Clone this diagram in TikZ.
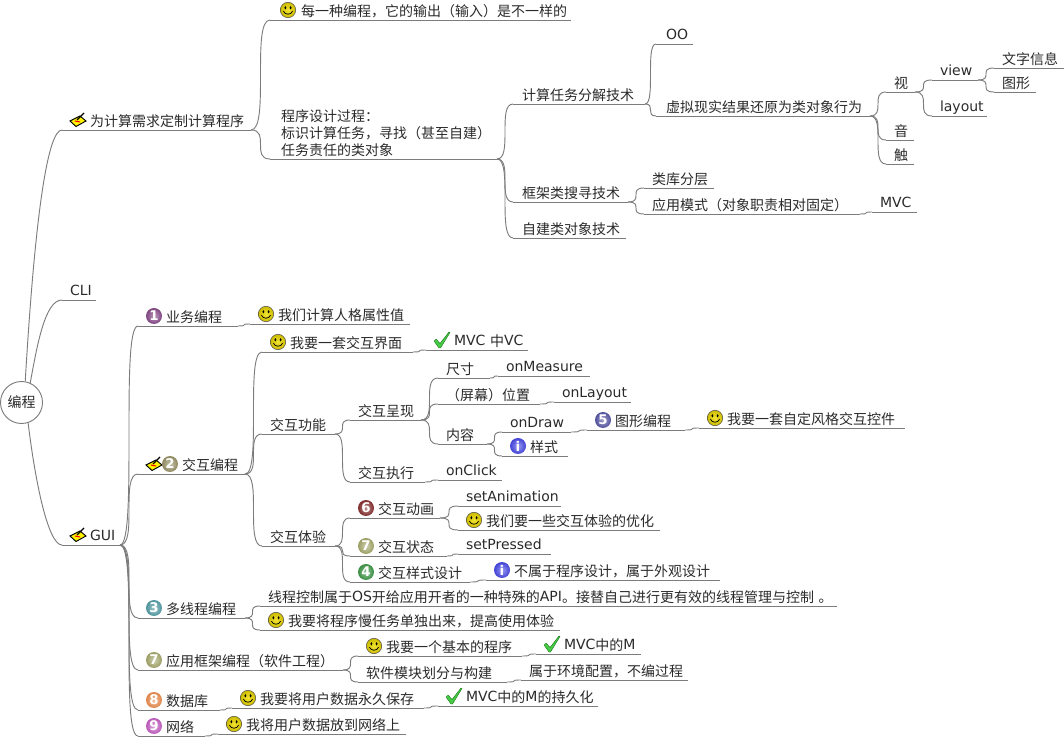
\documentclass[tikz,border=0pt]{standalone}
\usepackage{fontspec}
\setmainfont{Noto Sans CJK SC}
\newfontfamily\lat{DejaVu Sans}
\newcommand\ltn[1]{\raisebox{0.6pt}{\lat #1}}
\definecolor{linec}{HTML}{7C7C7C}
\definecolor{txtc}{HTML}{2A2A2A}
\definecolor{bA}{HTML}{8A4A8A}
\definecolor{bB}{HTML}{9A9468}
\definecolor{bC}{HTML}{55A0A8}
\definecolor{bD}{HTML}{3F9A48}
\definecolor{bE}{HTML}{5858A8}
\definecolor{bF}{HTML}{8A3030}
\definecolor{bG}{HTML}{A8AC6C}
\definecolor{bH}{HTML}{F09050}
\definecolor{bI}{HTML}{C860C8}
\definecolor{bInfo}{HTML}{4848E8}
\definecolor{smy}{HTML}{F0DC00}
\definecolor{chk}{HTML}{48CC48}
\tikzset{
  lab/.style={anchor=south west,inner sep=0pt,outer sep=0pt,align=left,text depth=2.8pt,text height=9pt,font=\fontsize{10.5}{12.75}\selectfont,text=txtc},
  ul/.style={draw=linec,line width=0.7pt},
  conn/.style={draw=linec,line width=0.7pt},
  pics/badge/.style 2 args={code={
    \shade[inner color=#1!55!white,outer color=#1!92!black] (0,0) circle (8);
    \node[inner sep=0pt,text=white,font=\lat\bfseries\fontsize{10}{10}\selectfont] (-n) at (0,0) {#2};
  }},
  pics/smiley/.style={code={
    \shade[inner color=smy!80!white,outer color=smy!85!black,draw=black!70,line width=0.4pt] (0,0) circle (7.7);
    \fill[black] (-2.6,-2.2) ellipse (1 and 1.7);
    \fill[black] (2.6,-2.2) ellipse (1 and 1.7);
    \draw[black,line width=0.55pt] (-4.6,1.2) .. controls (-3,5.2) and (3,5.2) .. (4.6,1.2);
  }},
  pics/chkmark/.style={code={
    \fill[chk,draw=green!40!black,line width=0.25pt] (-8,1) -- (-6,-1) -- (-2,3.5) -- (7,-8) -- (8,-7.5) -- (-1.5,8) -- (-3,8) -- cycle;
  }},
  pics/penbook/.style={code={
    \fill[yellow,draw=black,line width=0.7pt] (-8,0) -- (2,-5) -- (8,0) -- (-2,5.5) -- cycle;
    \draw[red,line width=0.8pt] (-3,0) -- (2,1);
    \draw[black,line width=1pt] (-1,-1) -- (6,-8);
  }}
}
% name x1 x2 y textx text
\newcommand\mnode[7][]{%
  \pgfmathsetmacro\ndwid{(#4-#3)*0.75}%
  \pgfmathsetmacro\ndoff{(#6-#3)*0.75}%
  \node[lab,text width=\ndwid pt,#1] (#2) at (#3,#5) {\hspace*{\ndoff pt}\mbox{#7}};
  \draw[ul] (#2.south west) -- (#2.south east);
}
\newcommand\cn[2]{\draw[conn] (#1.south east) .. controls (#2.south west |- #1.south east) and (#1.south east |- #2.south west) .. (#2.south west);}
\begin{document}
\begin{tikzpicture}[x=0.75pt,y=-0.75pt]
\useasboundingbox (0,0) rectangle (1064,737);
\node[circle,draw=linec,line width=0.7pt,minimum size=31.5pt,inner sep=0pt,font=\fontsize{10.5}{12.75}\selectfont,text=txtc] (root) at (21.5,402.5) {编程};

\mnode{a}{62}{251}{130}{90}{为计算需求定制计算程序}
\mnode{cli}{62}{96}{300}{70}{\ltn{CLI}}
\mnode{gui}{62}{120}{545}{90}{\ltn{GUI}}

\mnode{aa}{270}{571}{20}{301}{每一种编程，它的输出（输入）是不一样的}
\mnode[text depth=28.3pt,text height=9pt]{ab}{270}{497}{159}{281}{\vtop{\baselineskip=12.75pt\hbox{程序设计过程：}\hbox{标识计算任务，寻找（甚至自建）}\hbox{任务责任的类对象}}}
\mnode{ba}{513}{645}{104}{522}{计算任务分解技术}
\mnode{bb}{513}{628}{202}{522}{框架类搜寻技术}
\mnode{bc}{513}{626}{238}{522}{自建类对象技术}
\mnode{oo}{656}{693}{44}{666}{\ltn{OO}}
\mnode{vr}{656}{870}{116}{666}{虚拟现实结果还原为类对象行为}
\mnode{shi}{886}{915}{92}{894}{视}
\mnode{yin}{886}{914}{140}{894}{音}
\mnode{chu}{886}{914}{164}{894}{触}
\mnode{view}{932}{978}{80}{940}{\ltn{view}}
\mnode{layout}{932}{987}{116}{940}{\ltn{layout}}
\mnode{wz}{994}{1064}{68}{1002}{文字信息}
\mnode{tx}{994}{1036}{92}{1002}{图形}
\mnode{lk}{644}{714}{188}{652}{类库分层}
\mnode{yy}{644}{860}{214}{652}{应用模式（对象职责相对固定）}
\mnode{mvc}{872}{917}{212}{880}{\ltn{MVC}}

\mnode{b1}{138}{238}{326}{166}{业务编程}
\mnode{b1a}{250}{410}{324}{278}{我们计算人格属性值}
\mnode{b2}{138}{245}{474}{182}{交互编程}
\mnode{c1}{262}{413}{352}{290}{我要一套交互界面}
\mnode{c1a}{426}{528}{350}{454}{\ltn{MVC} 中\ltn{VC}}
\mnode{c2}{262}{335}{434}{270}{交互功能}
\mnode{c3}{262}{335}{546}{270}{交互体验}
\mnode{d1}{350}{421}{420}{358}{交互呈现}
\mnode{d2}{350}{425}{482}{358}{交互执行}
\mnode{d2a}{438}{502}{480}{446}{\ltn{onClick}}
\mnode{e1}{438}{490}{378}{446}{尺寸}
\mnode{e1a}{498}{590}{376}{506}{\ltn{onMeasure}}
\mnode{e2}{438}{540}{404}{446}{（屏幕）位置}
\mnode{e2a}{554}{631}{402}{562}{\ltn{onLayout}}
\mnode{e3}{438}{487}{444}{446}{内容}
\mnode{f1}{502}{571}{432}{510}{\ltn{onDraw}}
\mnode{f2}{502}{568}{456}{530}{样式}
\mnode{g1}{587}{685}{430}{615}{图形编程}
\mnode{g2}{699}{905}{428}{727}{我要一套自定风格交互控件}
\mnode{h1}{350}{440}{518}{378}{交互动画}
\mnode{h2}{350}{447}{556}{378}{交互状态}
\mnode{h3}{350}{470}{582}{378}{交互样式设计}
\mnode{h1a}{458}{561}{506}{466}{\ltn{setAnimation}}
\mnode{h1b}{458}{660}{530}{486}{我们要一些交互体验的优化}
\mnode{h2a}{458}{551}{554}{466}{\ltn{setPressed}}
\mnode{h3a}{486}{720}{580}{514}{不属于程序设计，属于外观设计}
\mnode{b3}{138}{245}{618}{166}{多线程编程}
\mnode{m1}{260}{837}{606}{268}{线程控制属于\ltn{OS}开给应用开者的一种特殊的\ltn{API}。接替自己进行更有效的线程管理与控制 。}
\mnode{m2}{260}{560}{630}{288}{我要将程序慢任务单独出来，提高使用体验}
\mnode{b7}{138}{343}{670}{166}{应用框架编程（软件工程）}
\mnode{n1}{358}{522}{656}{386}{我要一个基本的程序}
\mnode{n1a}{536}{641}{654}{564}{\ltn{MVC}中的\ltn{M}}
\mnode{n2}{358}{507}{682}{366}{软件模块划分与构建}
\mnode{n2a}{521}{688}{680}{529}{属于环境配置，不编过程}
\mnode{b8}{138}{220}{710}{166}{数据库}
\mnode{p1}{232}{424}{708}{260}{我要将用户数据永久保存}
\mnode{p1a}{438}{598}{706}{466}{\ltn{MVC}中的\ltn{M}的持久化}
\mnode{b9}{138}{205}{736}{166}{网络}
\mnode{q1}{218}{406}{734}{246}{我将用户数据放到网络上}

% root connectors
\draw[conn] (root.80) .. controls +(10,-170) and +(-14,0) .. (a.south west);
\draw[conn] (root.66) .. controls +(7,-38) and +(-17,0) .. (cli.south west);
\draw[conn] (root.-72) .. controls +(7,58) and +(-14,0) .. (gui.south west);

\cn{a}{aa}\cn{a}{ab}
\cn{ab}{ba}\cn{ab}{bb}\cn{ab}{bc}
\cn{ba}{oo}\cn{ba}{vr}
\cn{vr}{shi}\cn{vr}{yin}\cn{vr}{chu}
\cn{shi}{view}\cn{shi}{layout}
\cn{view}{wz}\cn{view}{tx}
\cn{bb}{lk}\cn{bb}{yy}\cn{yy}{mvc}
\cn{gui}{b1}\cn{gui}{b2}\cn{gui}{b3}\cn{gui}{b7}\cn{gui}{b8}\cn{gui}{b9}
\cn{b1}{b1a}
\cn{b2}{c1}\cn{b2}{c2}\cn{b2}{c3}
\cn{c1}{c1a}
\cn{c2}{d1}\cn{c2}{d2}\cn{d2}{d2a}
\cn{d1}{e1}\cn{d1}{e2}\cn{d1}{e3}
\cn{e1}{e1a}\cn{e2}{e2a}
\cn{e3}{f1}\cn{e3}{f2}\cn{f1}{g1}\cn{g1}{g2}
\cn{c3}{h1}\cn{c3}{h2}\cn{c3}{h3}
\cn{h1}{h1a}\cn{h1}{h1b}\cn{h2}{h2a}\cn{h3}{h3a}
\cn{b3}{m1}\cn{b3}{m2}
\cn{b7}{n1}\cn{b7}{n2}\cn{n1}{n1a}\cn{n2}{n2a}
\cn{b8}{p1}\cn{p1}{p1a}\cn{b9}{q1}

% icons
\pic at (78,121) {penbook};
\pic at (78,536) {penbook};
\pic at (154,465) {penbook};
\pic (i1) at (154,316) {badge={bA}{1}};
\pic (i2) at (170,464) {badge={bB}{2}};
\pic (i3) at (154,608) {badge={bC}{3}};
\pic (i4) at (366,572) {badge={bD}{4}};
\pic (i5) at (603,420) {badge={bE}{5}};
\pic (i6) at (366,508) {badge={bF}{6}};
\pic (i7) at (366,546) {badge={bG}{7}};
\pic (i7b) at (154,660) {badge={bG}{7}};
\pic (i8) at (154,700) {badge={bH}{8}};
\pic (i9) at (154,726) {badge={bI}{9}};
\pic (ia) at (518,446) {badge={bInfo}{i}};
\pic (ib) at (502,570) {badge={bInfo}{i}};
\pic at (288,10) {smiley};
\pic at (266,314) {smiley};
\pic at (278,342) {smiley};
\pic at (715,418) {smiley};
\pic at (474,520) {smiley};
\pic at (276,620) {smiley};
\pic at (374,646) {smiley};
\pic at (248,698) {smiley};
\pic at (234,724) {smiley};
\pic at (442,340) {chkmark};
\pic at (552,644) {chkmark};
\pic at (454,696) {chkmark};
\end{tikzpicture}
\end{document}
